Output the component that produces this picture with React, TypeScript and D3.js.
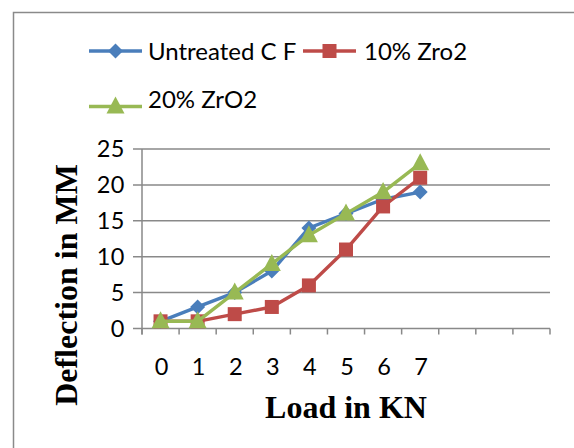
import React from "react";
import * as d3 from "d3";

const categories = ["0", "1", "2", "3", "4", "5", "6", "7", "", "", ""];
const untreated = [1, 3, 5, 8, 14, 16, 18, 19];
const zro10 = [1, 1, 2, 3, 6, 11, 17, 21];
const zro20 = [1, 1, 5, 9, 13, 16, 19, 23];
const yTicks = [0, 5, 10, 15, 20, 25];
const seriesNames = ["Untreated C F", "10% Zro2", "20% ZrO2"];

const W = 574;
const H = 448;
const plot = { left: 142, right: 550, top: 149, bottom: 328.5 };
const colors = ["#4A7EBB", "#BE4B48", "#98B954"];
const tickFont = "Lato, 'Open Sans', sans-serif";
const serif = "'Liberation Serif', 'DejaVu Serif', serif";

function Marker({ kind, x, y, color }: { kind: string; x: number; y: number; color: string }) {
  if (kind === "diamond") {
    const s = 7.5;
    return <path d={`M${x},${y - s}L${x + s},${y}L${x},${y + s}L${x - s},${y}Z`} fill={color} />;
  }
  if (kind === "square") {
    const s = 7;
    return <rect x={x - s} y={y - s} width={2 * s} height={2 * s} fill={color} />;
  }
  const w = 9;
  return <path d={`M${x},${y - 10}L${x + w},${y + 7}L${x - w},${y + 7}Z`} fill={color} />;
}

export default function App() {
  const x = d3.scaleBand<string>().domain(categories.map((c, i) => String(i))).range([plot.left, plot.right]);
  const y = d3.scaleLinear().domain([0, 25]).range([plot.bottom, plot.top]);
  const cx = (i: number) => (x(String(i)) as number) + x.bandwidth() / 2;
  const line = d3
    .line<number>()
    .x((_, i) => cx(i))
    .y((d) => y(d));
  const series = [
    { data: untreated, kind: "diamond" },
    { data: zro10, kind: "square" },
    { data: zro20, kind: "triangle" },
  ];
  const grid = "#898989";
  const boundaries = d3.range(categories.length + 1).map((i) => plot.left + i * x.bandwidth());

  const legend = [
    { lx: 89, ly: 51, tx: 148, ty: 60 },
    { lx: 303, ly: 51, tx: 364, ty: 60 },
    { lx: 89, ly: 106.5, tx: 148, ty: 108 },
  ];

  return (
    <svg width={W} height={H} style={{ position: "absolute", left: 0, top: 0, background: "#fff" }}>
      <rect x={13.5} y={12.5} width={700} height={600} fill="#fff" stroke="#8a8a8a" strokeWidth={1.5} />
      {yTicks.map((t) => (
        <g key={t}>
          <line x1={plot.left - 9} x2={plot.right} y1={y(t)} y2={y(t)} stroke={grid} strokeWidth={1.5} />
          <text x={125} y={y(t) + 8} textAnchor="end" fontFamily={tickFont} fontSize={23.5} letterSpacing={0.5} fill="#000">
            {t}
          </text>
        </g>
      ))}
      <line x1={plot.left} x2={plot.left} y1={plot.top} y2={plot.bottom + 6} stroke={grid} strokeWidth={1.5} />
      {boundaries.map((b, i) => (
        <line key={i} x1={b} x2={b} y1={plot.bottom} y2={plot.bottom + 6} stroke={grid} strokeWidth={1.5} />
      ))}
      {categories.map((c, i) => (
        <text key={i} x={cx(i) + 1} y={375} textAnchor="middle" fontFamily={tickFont} fontSize={23.5} fill="#000">
          {c}
        </text>
      ))}
      {series.map((s, si) => (
        <g key={si}>
          <path d={line(s.data) || ""} fill="none" stroke={colors[si]} strokeWidth={3.4} strokeLinejoin="round" />
          {s.data.map((v, i) => (
            <Marker key={i} kind={s.kind} x={cx(i)} y={y(v)} color={colors[si]} />
          ))}
        </g>
      ))}
      {series.map((s, si) => (
        <g key={si}>
          <line x1={legend[si].lx} x2={legend[si].lx + 53} y1={legend[si].ly} y2={legend[si].ly} stroke={colors[si]} strokeWidth={3.4} />
          <Marker kind={s.kind} x={legend[si].lx + 26.5} y={legend[si].ly} color={colors[si]} />
          <text x={legend[si].tx} y={legend[si].ty} fontFamily={tickFont} fontSize={24} fill="#000">
            {seriesNames[si]}
          </text>
        </g>
      ))}
      <text x={346} y={418} textAnchor="middle" fontFamily={serif} fontWeight="bold" fontSize={32} fill="#000">
        Load in KN
      </text>
      <text
        transform="translate(77,285) rotate(-90)"
        textAnchor="middle"
        fontFamily={serif}
        fontWeight="bold"
        fontSize={32}
        fill="#000"
      >
        Deflection in MM
      </text>
    </svg>
  );
}
